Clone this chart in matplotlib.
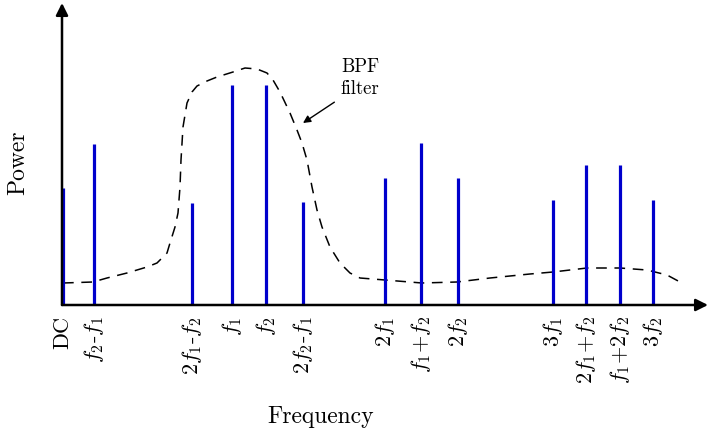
import matplotlib
matplotlib.use("Agg")
import matplotlib.pyplot as plt

plt.rcParams['mathtext.fontset'] = 'cm'
plt.rcParams['font.family'] = ['cmr10', 'DejaVu Serif']
plt.rcParams['axes.unicode_minus'] = False

# spectral lines (arbitrary frequency units, power in arbitrary units)
freq = [1, 32, 130, 170, 204, 241, 323, 359, 396, 491, 524, 558, 591]
power = [117, 161, 102, 220, 220, 103, 127, 162, 127, 105, 140, 140, 105]
labels = ["DC", r"$f_2$-$f_1$", r"$2f_1$-$f_2$", r"$f_1$", r"$f_2$",
          r"$2f_2$-$f_1$", r"$2f_1$", r"$f_1$+$f_2$", r"$2f_2$",
          r"$3f_1$", r"$2f_1$+$f_2$", r"$f_1$+$2f_2$", r"$3f_2$"]

# band pass filter response
bpf_f = [1, 31, 45, 65, 85, 95, 105, 108, 113, 116, 118, 119, 121, 125, 130,
         135, 145, 155, 171, 183, 195, 205, 211, 218, 228, 235, 240, 245, 250,
         255, 260, 268, 278, 288, 298, 323, 360, 395, 428, 468, 491, 525, 558,
         585, 605, 618]
bpf_p = [22, 23, 27, 32, 38, 42, 52, 62, 78, 92, 118, 145, 178, 202, 213,
         219, 224, 228, 233, 237, 236, 232, 225, 213, 192, 175, 162, 145, 118,
         95, 78, 58, 42, 32, 27, 25, 22, 23, 27, 31, 33, 37, 37, 35, 30, 23]

fig = plt.figure(figsize=(7.08, 4.33), dpi=100)
ax = fig.add_axes([62/708, (433-305)/433, 646/708, 302/433])
ax.set_xlim(0, 646)
ax.set_ylim(0, 302)
for s in ax.spines.values():
    s.set_visible(False)

# axes with arrows
ax.annotate("", xy=(0, 302), xytext=(0, 0),
            arrowprops=dict(arrowstyle="-|>", color="black", lw=1.8,
                            mutation_scale=18, shrinkA=0, shrinkB=0))
ax.annotate("", xy=(646, 0), xytext=(0, 0),
            arrowprops=dict(arrowstyle="-|>", color="black", lw=1.8,
                            mutation_scale=18, shrinkA=0, shrinkB=0))

ax.plot(bpf_f, bpf_p, color="black", lw=1.1, ls=(0, (7, 5)), zorder=1)
ax.vlines(freq, 0, power, color="#0000cc", lw=2.3, zorder=2)

ax.set_xticks(freq)
ax.set_xticklabels(labels, rotation=90, fontsize=16)
ax.tick_params(axis="x", length=0, pad=8)
ax.set_yticks([])

ax.set_xlabel("Frequency", fontsize=17)
ax.xaxis.set_label_coords(259/646, -101/302)
ax.set_ylabel("Power", fontsize=17)
ax.yaxis.set_label_coords(-33/646, 142/302)

ax.annotate("BPF\nfilter", xy=(241, 182), xytext=(298, 227),
            fontsize=13.5, ha="center", va="center", linespacing=1.3,
            arrowprops=dict(arrowstyle="-|>", color="black", lw=1,
                            mutation_scale=11, shrinkA=3, shrinkB=0,
                            relpos=(0.0, 0.0)))

fig.savefig("out.png", dpi=100)
